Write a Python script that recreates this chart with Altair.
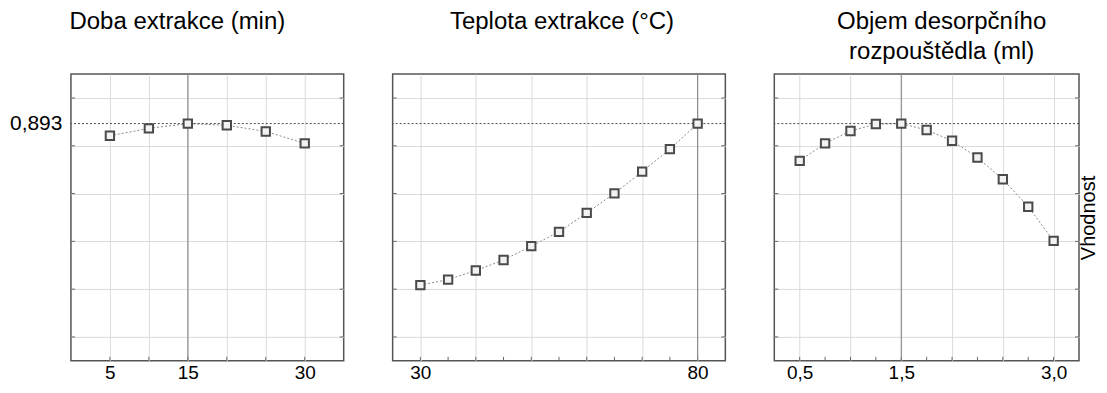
import json
import altair as alt
import pandas as pd

FONT = "Liberation Sans"

# ---- data ----
doba_x = [5, 10, 15, 20, 25, 30]
doba_y = [0.842, 0.873, 0.893, 0.886, 0.860, 0.810]
doba_grid = [5, 10, 15, 20, 25, 30]
doba_labels = [5, 15, 30]
doba_domain = [0, 35]
doba_opt = 15

teplota_x = [30, 35, 40, 45, 50, 55, 60, 65, 70, 75, 80]
teplota_y = [0.217, 0.240, 0.278, 0.322, 0.380, 0.440, 0.519, 0.601, 0.692, 0.786, 0.893]
teplota_grid = [30, 35, 40, 45, 50, 55, 60, 65, 70, 75, 80]
teplota_labels = [30, 80]
teplota_domain = [25, 85]
teplota_opt = 80

objem_x = [0.5, 0.75, 1.0, 1.25, 1.5, 1.75, 2.0, 2.25, 2.5, 2.75, 3.0]
objem_y = [0.737, 0.810, 0.862, 0.891, 0.893, 0.866, 0.821, 0.751, 0.660, 0.545, 0.402]
objem_grid = [0.5, 0.75, 1.0, 1.25, 1.5, 1.75, 2.0, 2.25, 2.5, 2.75, 3.0]
objem_labels = [0.5, 1.5, 3.0]
objem_domain = [0.25, 3.25]
objem_opt = 1.5

y_grid = [0.0, 0.2, 0.4, 0.6, 0.8, 1.0]
y_domain = [-0.1, 1.1]
desirability = 0.893
y_title = "Vhodnost"

titles = ["Doba extrakce (min)", "Teplota extrakce (°C)", ["Objem desorpčního", "rozpouštědla (ml)"]]

GRID = "#dadada"
TICK = "#666666"
PLOT_H = 287
TICK_LEN = 4


def make_panel(xs, ys, grid, labels, domain, opt, fmt, title, width, dx, offset, yaxis):
    df = pd.DataFrame({"x": xs, "y": ys})
    label_expr = (
        f"indexof({json.dumps(labels)}, datum.value) >= 0 ? "
        f"replace(format(datum.value, '{fmt}'), '.', ',') : ''"
    )
    xenc = alt.X(
        "x:Q",
        scale=alt.Scale(domain=domain, nice=False, zero=False),
        axis=alt.Axis(
            values=grid, labelExpr=label_expr, title=None, ticks=False, domain=False,
            labelFontSize=19, labelPadding=3, labelOverlap=False, labelFlush=False,
            gridColor=GRID, labelColor="black", labelFont=FONT,
        ),
    )
    yenc = alt.Y("y:Q", scale=alt.Scale(domain=y_domain, nice=False, zero=False), axis=yaxis)

    line = alt.Chart(df).mark_line(color="#8a8a8a", strokeDash=[2, 2], strokeWidth=1).encode(x=xenc, y=yenc)
    pts = alt.Chart(df).mark_point(
        shape="square", size=70, filled=True, fill="#f2f2f2", stroke="#4a4a4a",
        strokeWidth=2, opacity=1,
    ).encode(x="x:Q", y="y:Q")
    vrule = alt.Chart(pd.DataFrame({"x": [opt]})).mark_rule(color="#808080", strokeWidth=1).encode(x="x:Q")
    hrule = alt.Chart(pd.DataFrame({"y": [desirability]})).mark_rule(
        color="#4a4a4a", strokeDash=[2, 2], strokeWidth=1
    ).encode(y="y:Q")

    # small inward ticks on the frame
    ydf = pd.DataFrame({"y": y_grid})
    xdf = pd.DataFrame({"x": grid})
    lt = alt.Chart(ydf).mark_rule(color=TICK, strokeWidth=1).encode(
        y="y:Q", x=alt.value(0), x2=alt.value(TICK_LEN))
    rt = alt.Chart(ydf).mark_rule(color=TICK, strokeWidth=1).encode(
        y="y:Q", x=alt.value(width - TICK_LEN), x2=alt.value(width))
    bt = alt.Chart(xdf).mark_rule(color=TICK, strokeWidth=1).encode(
        x="x:Q", y=alt.value(PLOT_H - TICK_LEN), y2=alt.value(PLOT_H))

    return alt.layer(line, lt, rt, bt, vrule, hrule, pts).properties(
        width=width, height=PLOT_H,
        title=alt.TitleParams(
            text=title, fontSize=24, font=FONT, fontWeight="normal", color="black",
            anchor="middle", frame="group", baseline="alphabetic", offset=offset, dx=dx,
            lineHeight=30,
        ),
    )


y1 = alt.Axis(
    values=y_grid + [desirability],
    labelExpr=f"datum.value == {desirability} ? '{str(desirability).replace('.', ',')}' : ''",
    ticks=False, domain=False, title=None, labelFontSize=21, labelPadding=9,
    labelFont=FONT, labelColor="black", labelOverlap=False, labelFlush=False,
    gridColor=GRID,
    gridOpacity={"condition": {"test": f"datum.value == {desirability}", "value": 0}, "value": 1},
)
y2 = alt.Axis(values=y_grid, labels=False, ticks=False, domain=False, title=None, gridColor=GRID)
y3 = alt.Axis(
    orient="right", values=y_grid, labels=False, ticks=False, domain=False, title=y_title,
    titleAngle=270, titleFontSize=20, titleFontWeight="normal", titleFont=FONT,
    titleColor="black", titlePadding=19, gridColor=GRID,
)

p1 = make_panel(doba_x, doba_y, doba_grid, doba_labels, doba_domain, doba_opt, "d", titles[0], 273, -30, 21, y1)
p2 = make_panel(teplota_x, teplota_y, teplota_grid, teplota_labels, teplota_domain, teplota_opt, "d", titles[1], 333, 3, 21, y2)
p3 = make_panel(objem_x, objem_y, objem_grid, objem_labels, objem_domain, objem_opt, ".1f", titles[2], 305, 15, -9, y3)

chart = (
    alt.hconcat(p1, p2, p3, spacing=49, bounds="flush")
    .resolve_scale(x="independent", y="independent")
    .configure_view(stroke="#555555", strokeWidth=1.5)
    .properties(padding={"left": 0, "top": 0, "right": 0, "bottom": 0}, background="white")
)

chart.save("out.html", embed_options={"renderer": "svg", "actions": False})
